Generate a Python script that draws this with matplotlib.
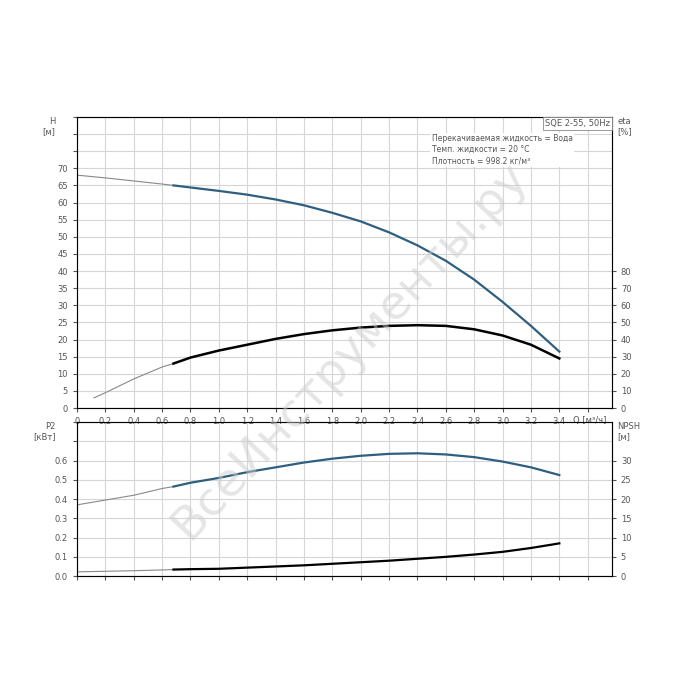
import numpy as np
import matplotlib.pyplot as plt

# Напор H [м]
q_h = [0.0, 0.2, 0.4, 0.6, 0.68, 0.8, 1.0, 1.2, 1.4, 1.6, 1.8, 2.0, 2.2, 2.4, 2.6, 2.8, 3.0, 3.2, 3.4]
h = [68.0, 67.2, 66.3, 65.4, 65.0, 64.4, 63.4, 62.3, 60.9, 59.2, 57.0, 54.5, 51.3, 47.5, 43.0, 37.5, 31.0, 24.0, 16.5]
# КПД eta [%]
q_eta = [0.12, 0.2, 0.4, 0.6, 0.68, 0.8, 1.0, 1.2, 1.4, 1.6, 1.8, 2.0, 2.2, 2.4, 2.6, 2.8, 3.0, 3.2, 3.4]
eta = [6.0, 9.0, 17.0, 24.0, 26.0, 29.5, 33.6, 37.0, 40.4, 43.2, 45.4, 47.0, 48.0, 48.4, 48.0, 46.0, 42.4, 37.0, 29.0]
# Мощность P2 [кВт]
q_p = [0.0, 0.2, 0.4, 0.6, 0.68, 0.8, 1.0, 1.2, 1.4, 1.6, 1.8, 2.0, 2.2, 2.4, 2.6, 2.8, 3.0, 3.2, 3.4]
p2 = [0.37, 0.395, 0.42, 0.455, 0.465, 0.485, 0.51, 0.54, 0.565, 0.59, 0.61, 0.625, 0.635, 0.638, 0.632, 0.618, 0.595, 0.565, 0.525]
# NPSH [м]
npsh = [1.1, 1.25, 1.4, 1.6, 1.7, 1.8, 1.9, 2.2, 2.5, 2.8, 3.2, 3.6, 4.0, 4.5, 5.0, 5.6, 6.3, 7.3, 8.5]

q_thin = 0.68
blue = '#2f5f80'
grid_c = '#d6d6d6'
txt_c = '#555555'
xt = np.arange(0, 3.61, 0.2)
xt_labels = ['0'] + [f'{v:.1f}' for v in xt[1:18]] + ['']

fig = plt.figure(figsize=(7, 7), dpi=100)
ax1 = fig.add_axes([0.11, 0.417, 0.764, 0.416])
ax3 = fig.add_axes([0.11, 0.177, 0.764, 0.22])

# водяной знак
fig.text(0.5, 0.5, 'ВсеИнструменты.ру', fontsize=34, rotation=47, color='#cccccc',
         alpha=0.5, ha='center', va='center', zorder=0)


def curve(ax, x, y, color, lw):
    x = np.array(x)
    y = np.array(y)
    ax.plot(x[x <= q_thin], y[x <= q_thin], color='#888888', lw=0.8)
    ax.plot(x[x >= q_thin], y[x >= q_thin], color=color, lw=lw)


def style(ax, ymax, ystep):
    ax.set_xlim(0, 3.77)
    ax.set_ylim(0, ymax)
    ax.set_xticks(xt)
    ax.set_yticks(np.arange(0, ymax + 1e-9, ystep))
    ax.grid(True, color=grid_c, lw=0.8)
    ax.tick_params(labelsize=6, colors=txt_c, length=3)
    ax.patch.set_alpha(0)
    for s in ax.spines.values():
        s.set_color('#888888')


style(ax1, 85, 5)
ax1.set_yticklabels([f'{v:g}' if v <= 70 else '' for v in np.arange(0, 85.01, 5)])
ax1.set_xticklabels(xt_labels)
curve(ax1, q_h, h, blue, 1.6)
ax1r = ax1.twinx()
ax1r.set_ylim(0, 170)
ax1r.set_yticks(np.arange(0, 81, 10))
ax1r.tick_params(labelsize=6, colors=txt_c, length=3)
curve(ax1r, q_eta, eta, 'black', 1.8)
ax1.text(-0.04, 1.0, 'H\n[м]', transform=ax1.transAxes, fontsize=6, color=txt_c, ha='right', va='top')
ax1r.text(1.01, 1.0, 'eta\n[%]', transform=ax1.transAxes, fontsize=6, color=txt_c, ha='left', va='top')
ax1r.text(3.5, -7, 'Q [м³/ч]', fontsize=6, color=txt_c, va='center')
ax1r.text(0.997, 0.992, 'SQE 2-55, 50Hz', transform=ax1.transAxes, fontsize=6, color=txt_c,
          ha='right', va='top', bbox=dict(fc='white', ec='#888888', lw=0.6, pad=1.5))
ax1r.text(2.5, 160, 'Перекачиваемая жидкость = Вода\nТемп. жидкости = 20 °C\nПлотность = 998.2 кг/м³',
          fontsize=5.5, color=txt_c, va='top', linespacing=1.3,
          bbox=dict(fc='white', ec='none', pad=1))

style(ax3, 0.8, 0.1)
ax3.set_yticklabels([f'{v:.1f}' if v < 0.65 else '' for v in np.arange(0, 0.801, 0.1)])
ax3.set_xticklabels([])
curve(ax3, q_p, p2, blue, 1.6)
ax3r = ax3.twinx()
ax3r.set_ylim(0, 40)
ax3r.set_yticks(np.arange(0, 31, 5))
ax3r.tick_params(labelsize=6, colors=txt_c, length=3)
curve(ax3r, q_p, npsh, 'black', 1.6)
ax3.text(-0.04, 1.0, 'P2\n[кВт]', transform=ax3.transAxes, fontsize=6, color=txt_c, ha='right', va='top')
ax3r.text(1.01, 1.0, 'NPSH\n[м]', transform=ax3.transAxes, fontsize=6, color=txt_c, ha='left', va='top')

fig.savefig('out.png', dpi=100, facecolor='white')
